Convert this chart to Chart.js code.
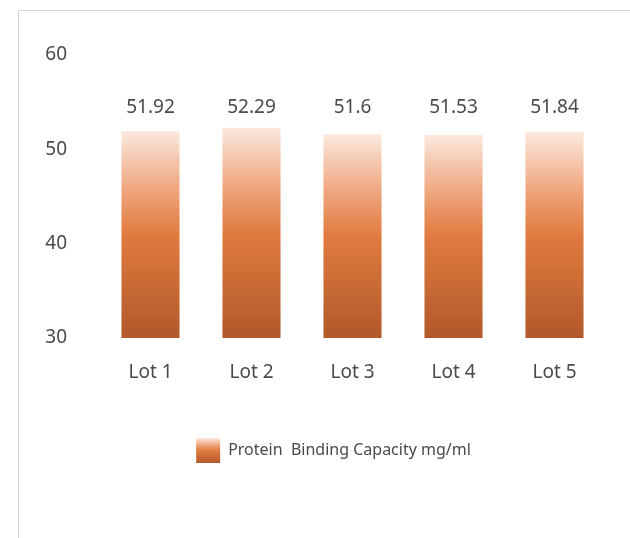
<!DOCTYPE html>
<html>
<head>
<meta charset="utf-8">
<script src="https://cdn.jsdelivr.net/npm/chart.js@4"></script>
<style>
  html, body { margin: 0; padding: 0; background: #ffffff; }
  #wrap { position: relative; width: 630px; height: 538px; overflow: hidden; }
  #frame { position: absolute; left: 18px; top: 10px; width: 640px; height: 560px;
           border-top: 1px solid #d6d6d6; border-left: 1px solid #d6d6d6; }
  canvas { position: absolute; left: 0; top: 0; }
</style>
</head>
<body>
<div id="wrap">
  <div id="frame"></div>
  <canvas id="c" width="630" height="538"></canvas>
</div>
<script>
const categories = ["Lot 1", "Lot 2", "Lot 3", "Lot 4", "Lot 5"];
const seriesLabel = "Protein  Binding Capacity mg/ml";
const values = [51.92, 52.29, 51.6, 51.53, 51.84];
const valueLabels = ["51.92", "52.29", "51.6", "51.53", "51.84"];
const yTicks = [30, 40, 50, 60];

const FONT = "'Noto Sans', 'Open Sans', sans-serif";
const TEXT = "#4a4a4a";

function barGradient(ctx, top, bottom) {
  const g = ctx.createLinearGradient(0, top, 0, bottom);
  g.addColorStop(0, "#fbe9de");
  g.addColorStop(0.28, "#efa67f");
  g.addColorStop(0.5, "#e07b3f");
  g.addColorStop(1, "#b1592b");
  return g;
}

const valueLabelPlugin = {
  id: "valueLabels",
  afterDatasetsDraw(chart) {
    const ctx = chart.ctx;
    const meta = chart.getDatasetMeta(0);
    ctx.save();
    ctx.font = "19px " + FONT;
    ctx.fillStyle = TEXT;
    ctx.textAlign = "center";
    ctx.textBaseline = "middle";
    meta.data.forEach((bar, i) => {
      ctx.fillText(valueLabels[i], bar.x, chart.chartArea.top + 53);
    });
    ctx.restore();
  }
};

const legendShift = {
  id: "legendShift",
  afterLayout(chart) {
    if (chart.legend) { chart.legend.left += 9; chart.legend.right += 9; }
  }
};

new Chart(document.getElementById("c"), {
  type: "bar",
  data: {
    labels: categories,
    datasets: [{
      label: seriesLabel,
      data: values,
      backgroundColor(context) {
        const chart = context.chart;
        const ca = chart.chartArea;
        if (!ca) return "#e07b3f";
        const ys = chart.scales.y;
        const v = context.raw;
        if (typeof v !== "number") {
          return barGradient(chart.ctx, ys.getPixelForValue(52), ys.getPixelForValue(30));
        }
        return barGradient(chart.ctx, ys.getPixelForValue(v), ys.getPixelForValue(30));
      },
      borderWidth: 0,
      barPercentage: 0.575,
      categoryPercentage: 1.0
    }]
  },
  options: {
    responsive: false,
    animation: false,
    devicePixelRatio: 1,
    layout: { padding: { left: 44, right: 25, top: 55, bottom: 65 } },
    scales: {
      x: {
        grid: { display: false, drawTicks: false },
        border: { display: false },
        ticks: { font: { family: FONT, size: 19 }, color: TEXT, padding: 23 },
        afterFit(scale) { scale.height = 90; }
      },
      y: {
        min: 30, max: 60,
        grid: { display: false, drawTicks: false },
        border: { display: false },
        afterBuildTicks(scale) { scale.ticks = yTicks.map(v => ({ value: v })); },
        ticks: { font: { family: FONT, size: 19 }, color: TEXT, padding: 33 },
        afterFit(scale) { scale.width = 56; }
      }
    },
    plugins: {
      legend: {
        position: "bottom",
        labels: {
          font: { family: FONT, size: 16 },
          color: TEXT,
          boxWidth: 24,
          boxHeight: 25,
          padding: 10,
          generateLabels(chart) {
            let fill = "#e07b3f";
            if (chart.chartArea && chart.legend) {
              const top = chart.legend.top + 10;
              fill = barGradient(chart.ctx, top, top + 25);
            }
            return [{
              text: seriesLabel,
              fillStyle: fill,
              strokeStyle: "rgba(0,0,0,0)",
              lineWidth: 0,
              datasetIndex: 0,
              fontColor: TEXT
            }];
          }
        }
      },
      tooltip: { enabled: false }
    }
  },
  plugins: [valueLabelPlugin, legendShift]
});
</script>
</body>
</html>
